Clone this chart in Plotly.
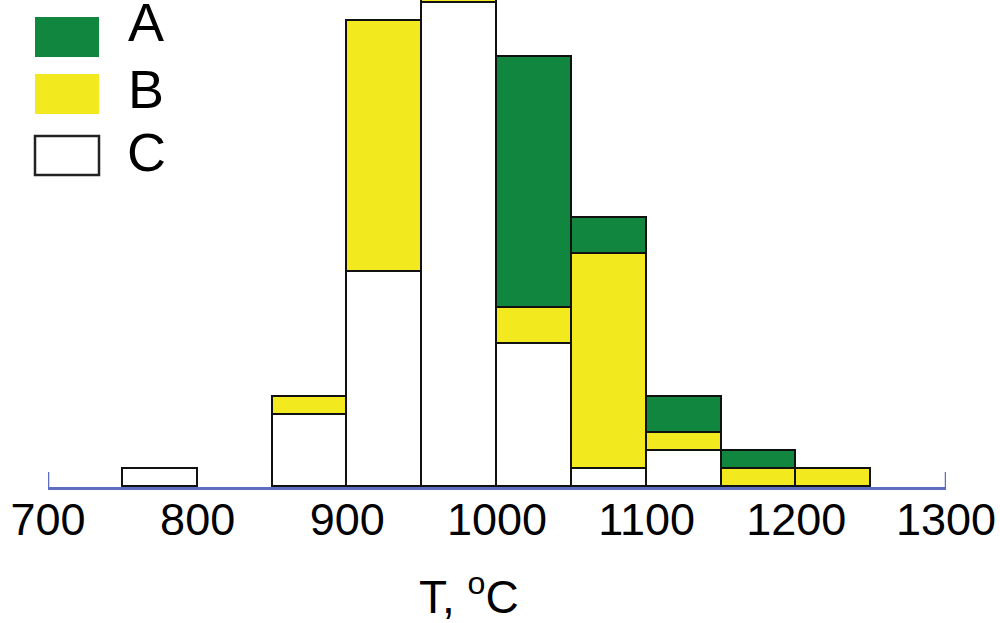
import plotly.graph_objects as go

# ---- data (counts per 50 °C bin) ----
bin_centers = [775, 825, 875, 925, 975, 1025, 1075, 1125, 1175, 1225]
C_counts = [1, None, 4, 12, 27, 8, 1, 2, None, None]
B_counts = [None, None, 1, 14, 1, 2, 12, 1, 1, 1]
A_counts = [None, None, None, None, None, 14, 2, 2, 1, None]
series_names = ["A", "B", "C"]
tick_values = [700, 800, 900, 1000, 1100, 1200, 1300]
tick_labels = ["700", "800", "900", "1000", "1100", "1200", "1300"]
x_range = [700, 1300]

GREEN = "#10863F"
YELLOW = "#F2EA1F"
WHITE = "#FFFFFF"
AXIS_BLUE = "#5F6DBE"
FONT = "Liberation Sans, Arial, Helvetica, sans-serif"

W, H = 1000, 623
L, R, T, B = 48, 54, 0, 136
PW, PH = W - L - R, H - T - B


def px_x(p):
    return (p - L) / PW


def px_y(p):
    return (H - B - p) / PH


fig = go.Figure()
for name, vals, col in [("C", C_counts, WHITE), ("B", B_counts, YELLOW), ("A", A_counts, GREEN)]:
    fig.add_trace(go.Bar(
        x=bin_centers, y=vals, width=50, name=name,
        marker=dict(color=col, line=dict(color="#111111", width=1.8)),
        showlegend=False, hoverinfo="skip",
    ))

fig.update_layout(
    width=W, height=H,
    margin=dict(l=L, r=R, t=T, b=B),
    barmode="stack", bargap=0,
    plot_bgcolor="white", paper_bgcolor="white",
    font=dict(family=FONT, color="#000000"),
    xaxis=dict(
        range=x_range, tickvals=tick_values, ticktext=tick_labels,
        showgrid=False, zeroline=False, showline=True, linecolor=AXIS_BLUE, linewidth=2.5,
        ticks="", tickfont=dict(size=45, family=FONT, color="#000000"),
        ticklabelstandoff=-9,
    ),
    yaxis=dict(range=[0, 27.17], visible=False, showgrid=False, zeroline=False),
)

# end ticks of the axis (pointing up) at both ends of the axis range
for xv in x_range:
    fig.add_shape(type="line", xref="x", yref="paper", x0=xv, x1=xv, y0=0, y1=15 / PH,
                  line=dict(color=AXIS_BLUE, width=2.5))

# axis title
fig.add_annotation(
    x=px_x(469), y=px_y(594), xref="paper", yref="paper",
    text="T, <sup>o</sup>C", showarrow=False, xanchor="center", yanchor="middle",
    font=dict(size=46, family=FONT, color="#000000"),
)

# manual legend
legend_rows = [("A", GREEN, 17, 57, 22), ("B", YELLOW, 74, 114, 89), ("C", WHITE, 136, 175, 152)]
for name, col, ytop, ybot, ytext in legend_rows:
    fig.add_shape(
        type="rect", xref="paper", yref="paper",
        x0=px_x(35), x1=px_x(99), y0=px_y(ybot), y1=px_y(ytop),
        fillcolor=col, line=dict(color="#222222" if col == WHITE else col, width=2.5 if col == WHITE else 0),
    )
    fig.add_annotation(
        x=px_x(146), y=px_y(ytext), xref="paper", yref="paper", text=name,
        showarrow=False, xanchor="center", yanchor="middle",
        font=dict(size=54, family=FONT, color="#000000"),
    )

fig.write_html("out.html")
